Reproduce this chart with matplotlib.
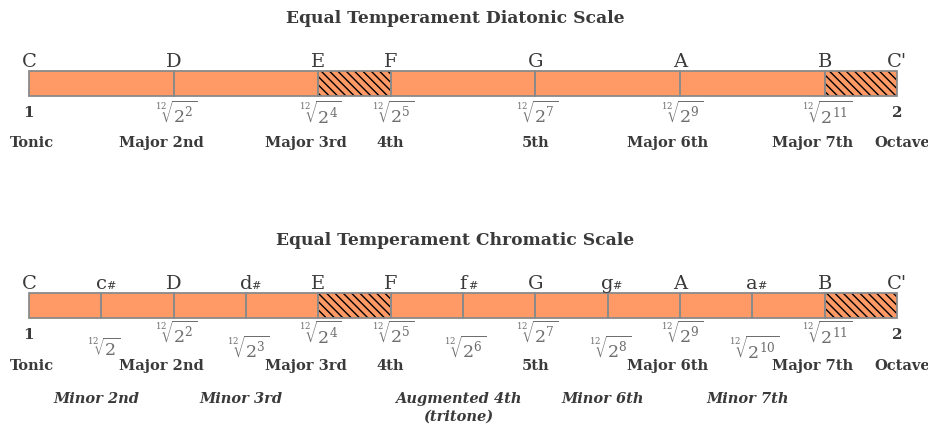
import matplotlib
matplotlib.use("Agg")
import matplotlib.pyplot as plt

# ---------------- data ----------------
titles = ["Equal Temperament Diatonic Scale", "Equal Temperament Chromatic Scale"]

diatonic_steps = [0, 2, 4, 5, 7, 9, 11, 12]
diatonic_notes = ["C", "D", "E", "F", "G", "A", "B", "C'"]
diatonic_intervals = ["Tonic", "Major 2nd", "Major 3rd", "4th", "5th", "Major 6th", "Major 7th", "Octave"]

chromatic_steps = list(range(13))
chromatic_notes = ["C", "c#", "D", "d#", "E", "F", "f#", "G", "g#", "A", "a#", "B", "C'"]
minor_steps = [1, 3, 6, 8, 10]
minor_intervals = ["Minor 2nd", "Minor 3rd", "Augmented 4th\n(tritone)", "Minor 6th", "Minor 7th"]

hatched_segments = [4, 11]   # E-F and B-C' (half steps)

# ---------------- style ----------------
ORANGE = "#FF9966"
EDGE = "#8a8a8a"
TXT = "#3a3a3a"
ROOTC = "#6e6e6e"
plt.rcParams["hatch.linewidth"] = 1.0
plt.rcParams["mathtext.fontset"] = "dejavuserif"
SERIF = "DejaVu Serif"

PX = 72.33  # pixels per semitone
fig = plt.figure(figsize=(9.29, 4.28), dpi=100)
ax = fig.add_axes([0, 0, 1, 1])
ax.set_xlim(-29 / PX, (929 - 29) / PX)
ax.set_ylim(428, 0)
ax.axis("off")

def root_label(n):
    if n == 0:
        return "1"
    if n == 12:
        return "2"
    if n == 1:
        return r"$\sqrt[12]{2}$"
    return r"$\sqrt[12]{2^{%d}}$" % n

def interval_offset(name):
    return {"Tonic": 0.04, "Octave": 0.07, "4th": 0.0, "5th": 0.0}.get(name, -0.17)

def draw_bar(steps, ytop, height=25):
    for a, b in zip(steps[:-1], steps[1:]):
        ax.barh(ytop + height / 2, b - a, left=a, height=height, color=ORANGE,
                edgecolor="none", linewidth=0, zorder=1)
        if a in hatched_segments:
            ax.barh(ytop + height / 2, b - a, left=a, height=height, color="none",
                    edgecolor="black", hatch="\\\\\\\\", linewidth=0, zorder=2)
        ax.barh(ytop + height / 2, b - a, left=a, height=height, color="none",
                edgecolor=EDGE, linewidth=1.3, zorder=3)

def draw_note(step, name, y):
    if "#" in name:
        ax.text(step, y, name[0], ha="center", va="baseline", fontsize=14,
                family=SERIF, color=TXT)
        ax.annotate("#", (step, y), xytext=(3.6, 0), textcoords="offset points",
                    ha="left", va="baseline", fontsize=8, style="italic",
                    family=SERIF, color=TXT)
    else:
        ax.text(step, y, name, ha="center", va="baseline", fontsize=14,
                family=SERIF, color=TXT)

def draw_roots(steps, notes, y_nat, y_sharp, y_one):
    for s, n in zip(steps, notes):
        if s in (0, 12):
            ax.text(s, y_one, root_label(s), ha="center", va="center",
                    fontsize=11, fontweight="bold", family=SERIF, color=TXT)
        else:
            y = y_sharp if "#" in n else y_nat
            ax.text(s + 0.03, y, root_label(s), ha="center", va="center",
                    fontsize=12.5, color=ROOTC)

# ---- diatonic ----
ax.text(455 / PX - 29 / PX, 18, titles[0], ha="center", va="center", fontsize=12.3,
        fontweight="bold", family=SERIF, color=TXT)
draw_bar(diatonic_steps, 71)
for s, n in zip(diatonic_steps, diatonic_notes):
    draw_note(s, n, 67)
draw_roots(diatonic_steps, diatonic_notes, 114, 114, 113)
for s, n in zip(diatonic_steps, diatonic_intervals):
    ax.text(s + interval_offset(n), 143, n, ha="center", va="center", fontsize=10.5,
            fontweight="bold", family=SERIF, color=TXT)

# ---- chromatic ----
ax.text(455 / PX - 29 / PX, 240, titles[1], ha="center", va="center", fontsize=12.3,
        fontweight="bold", family=SERIF, color=TXT)
draw_bar(chromatic_steps, 293)
for s, n in zip(chromatic_steps, chromatic_notes):
    draw_note(s, n, 289)
draw_roots(chromatic_steps, chromatic_notes, 334, 349, 335)
for s, n in zip(diatonic_steps, diatonic_intervals):
    ax.text(s + interval_offset(n), 366, n, ha="center", va="center", fontsize=10.5,
            fontweight="bold", family=SERIF, color=TXT)
for s, n in zip(minor_steps, minor_intervals):
    for i, line in enumerate(n.split("\n")):
        ax.text(s - 0.07, 399 + 18 * i, line, ha="center", va="center", fontsize=10.5,
                fontweight="bold", style="italic", family=SERIF, color=TXT)

fig.savefig("out.png", dpi=100)
